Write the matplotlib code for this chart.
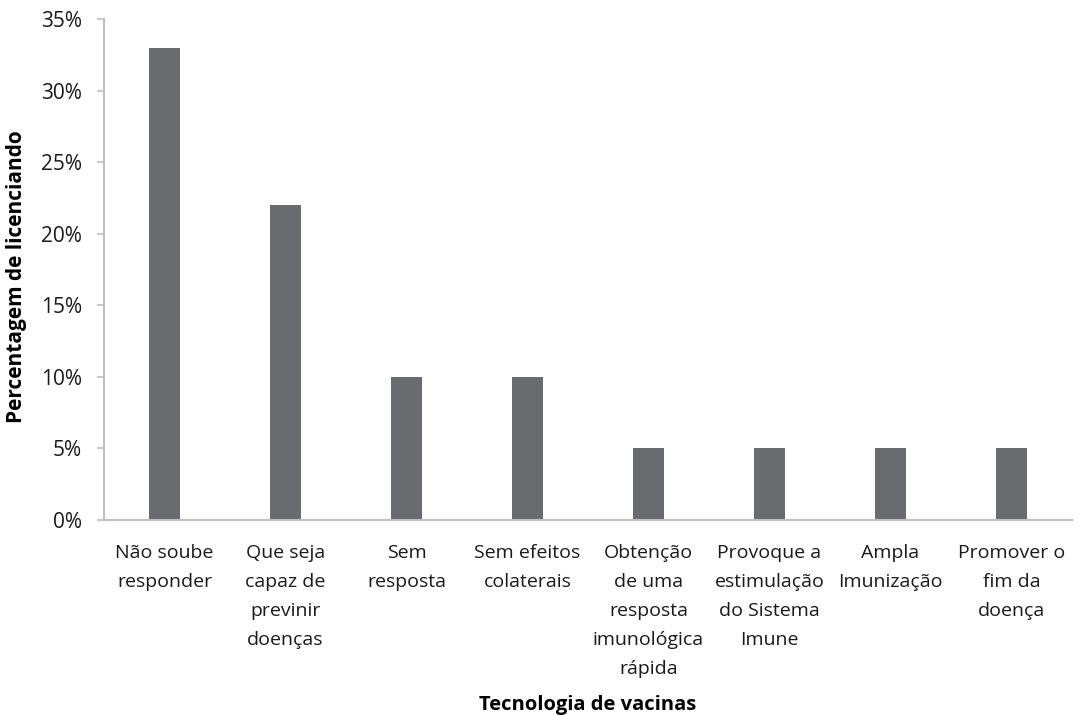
import matplotlib
matplotlib.use("Agg")
import matplotlib.pyplot as plt
from matplotlib.ticker import PercentFormatter

categories = [
    "Não soube\nresponder",
    "Que seja\ncapaz de\nprevinir\ndoenças",
    "Sem\nresposta",
    "Sem efeitos\ncolaterais",
    "Obtenção\nde uma\nresposta\nimunológica\nrápida",
    "Provoque a\nestimulação\ndo Sistema\nImune",
    "Ampla\nImunização",
    "Promover o\nfim da\ndoença",
]
percent = [33, 22, 10, 10, 5, 5, 5, 5]

plt.rcParams["font.family"] = ["Open Sans", "DejaVu Sans"]

fig = plt.figure(figsize=(10.77, 7.15), dpi=100)
ax = fig.add_axes([104 / 1077, 1 - 520 / 715, (1072 - 104) / 1077, (520 - 19) / 715])

x = range(len(categories))
ax.bar(x, percent, width=0.25, color="#696b6e")

ax.set_xlim(-0.5, len(categories) - 0.5)
ax.set_ylim(0, 35)
ax.set_yticks(range(0, 36, 5))
ax.yaxis.set_major_formatter(PercentFormatter(decimals=0))
ax.set_xticks(list(x))
ax.set_xticklabels(categories, fontsize=14, color="#1a1a1a", linespacing=1.8)

for side in ("top", "right"):
    ax.spines[side].set_visible(False)
for side in ("left", "bottom"):
    ax.spines[side].set_color("#bfbfbf")
    ax.spines[side].set_linewidth(1.5)

ax.tick_params(axis="y", length=5, width=1.2, color="#bfbfbf", labelsize=15,
               labelcolor="#1a1a1a", pad=11)
ax.tick_params(axis="x", length=0, pad=17)

ax.set_ylabel("Percentagem de licenciando", fontsize=15, fontweight="bold")
ax.set_xlabel("Tecnologia de vacinas", fontsize=14.5, fontweight="bold")
ax.yaxis.set_label_coords(-0.0795, 0.485)
ax.xaxis.set_label_coords(0.5, -0.35)

fig.savefig("out.png", dpi=100)
